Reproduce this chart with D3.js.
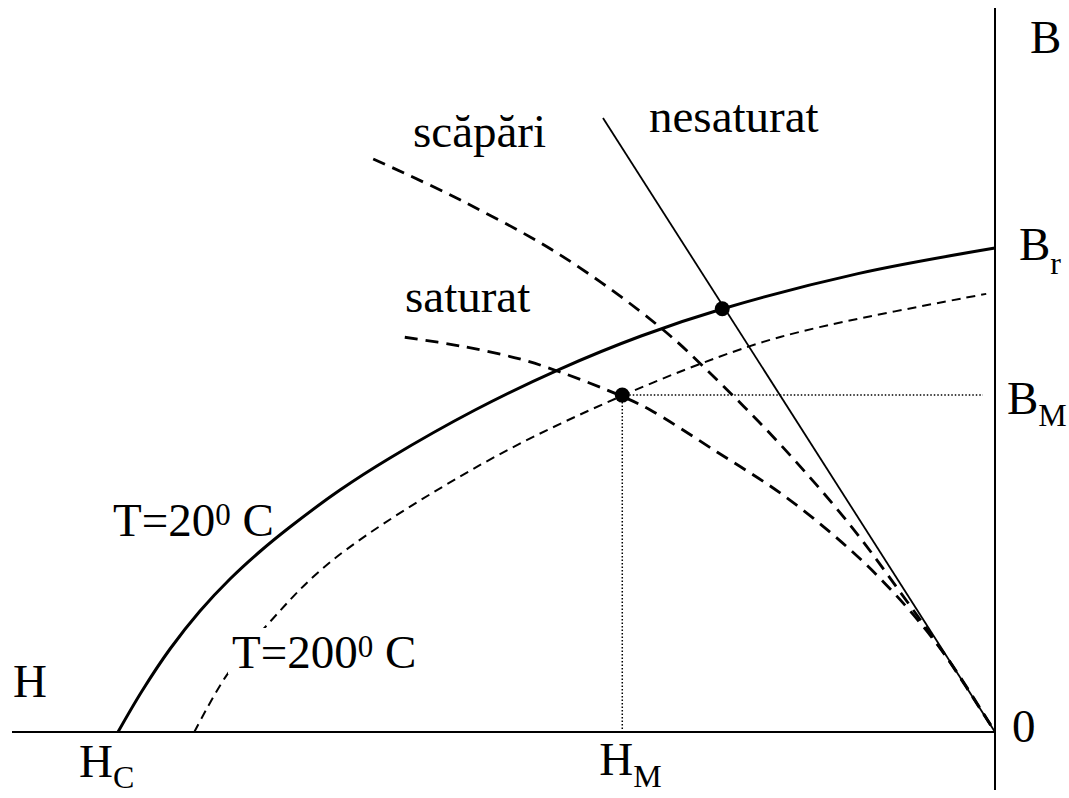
<!DOCTYPE html>
<html>
<head>
<meta charset="utf-8">
<script src="https://cdn.jsdelivr.net/npm/d3@7"></script>
<style>
  html, body { margin: 0; padding: 0; background: #fff; }
  svg { display: block; }
  text { font-family: "Liberation Serif", "Times New Roman", serif; fill: #000; }
</style>
</head>
<body>
<div id="chart"></div>
<script>
(function () {
    'use strict';

    // demagnetization curve at T=20 C (H relative to Hc = -100, B relative to Br = 100)
    var curve20H = [-100, -97.26, -94.07, -90.65, -87.23, -83.81, -80.39, -74.69, -68.99, -59.29, -49.6, -40.36, -31.13, -15.62, 0];
    var curve20B = [0, 8.51, 17.22, 25.1, 31.74, 37.45, 42.53, 50.2, 56.85, 66.8, 75.3, 82.16, 87.76, 95.1, 100.4];

    // curve at T=200 C
    var curve200H = [-91.3, -87.6, -82.4, -75.5, -58.7, -42.6, -28.2, -20.0, -1.0];
    var curve200B = [0, 11.8, 23.4, 35.7, 55.4, 69.7, 79.9, 84.0, 90.9];

    // load line with leakage ("scapari")
    var scapariH = [-70.9, -61.0, -49.6, -38.2, -31.0, -24.2, -16.5, -10.8, -5.7, 0];
    var scapariB = [118.9, 110.4, 99.0, 84.0, 71.8, 59.1, 42.9, 29.0, 16.0, 0];

    // saturated load line
    var saturatH = [-67.3, -61.0, -54.2, -49.6, -42.6, -39.3, -31.7, -24.2, -16.5, -10.8, -5.7, 0];
    var saturatB = [81.9, 80.1, 77.4, 74.7, 69.7, 66.8, 58.1, 49.2, 37.8, 27.4, 16.0, 0];

    // unsaturated (straight) load line
    var nesaturatH = [-44.7, 0];
    var nesaturatB = [127.4, 0];

    // marked points: operating point on T=20 curve, and M on T=200 curve
    var pointH = [-31.1, -42.5];
    var pointB = [87.8, 69.9];

    var hC = -100, hM = -42.5, bR = 100, bM = 69.9;

    var w = 1069, h = 798;
    var svg = d3.select("#chart").append("svg")
                .attr("width", w)
                .attr("height", h);

    var x = d3.scaleLinear().domain([-100, 0]).range([118, 995]);
    var y = d3.scaleLinear().domain([0, 100]).range([732, 250]);

    function zip(hs, bs) {
        return hs.map(function (d, i) { return [d, bs[i]]; });
    }

    var line = d3.line()
                 .x(function (d) { return x(d[0]); })
                 .y(function (d) { return y(d[1]); })
                 .curve(d3.curveCatmullRom.alpha(0.5));

    // axes
    svg.append("line")
       .attr("x1", 12).attr("x2", x(0))
       .attr("y1", y(0)).attr("y2", y(0))
       .attr("stroke", "#000").attr("stroke-width", 2);
    svg.append("line")
       .attr("x1", x(0)).attr("x2", x(0))
       .attr("y1", 8).attr("y2", 790)
       .attr("stroke", "#000").attr("stroke-width", 2);

    // dotted guides to M
    svg.append("line")
       .attr("x1", x(hM)).attr("x2", 983)
       .attr("y1", y(bM)).attr("y2", y(bM))
       .attr("stroke", "#000").attr("stroke-width", 1.5)
       .attr("stroke-dasharray", "1.5,2");
    svg.append("line")
       .attr("x1", x(hM)).attr("x2", x(hM))
       .attr("y1", y(bM)).attr("y2", y(0))
       .attr("stroke", "#000").attr("stroke-width", 1.5)
       .attr("stroke-dasharray", "1.5,2");

    svg.append("path")
       .attr("d", line(zip(curve200H, curve200B)))
       .attr("fill", "none").attr("stroke", "#000")
       .attr("stroke-width", 2).attr("stroke-dasharray", "9,6");

    svg.append("path")
       .attr("d", line(zip(scapariH, scapariB)))
       .attr("fill", "none").attr("stroke", "#000")
       .attr("stroke-width", 2.8).attr("stroke-dasharray", "13,8");

    svg.append("path")
       .attr("d", line(zip(saturatH, saturatB)))
       .attr("fill", "none").attr("stroke", "#000")
       .attr("stroke-width", 2.8).attr("stroke-dasharray", "13,8");

    svg.append("path")
       .attr("d", line(zip(nesaturatH, nesaturatB)))
       .attr("fill", "none").attr("stroke", "#000")
       .attr("stroke-width", 1.8);

    svg.append("path")
       .attr("d", line(zip(curve20H, curve20B)))
       .attr("fill", "none").attr("stroke", "#000")
       .attr("stroke-width", 3);

    svg.selectAll("circle.pt")
       .data(zip(pointH, pointB))
       .enter()
       .append("circle")
       .attr("class", "pt")
       .attr("cx", function (d) { return x(d[0]); })
       .attr("cy", function (d) { return y(d[1]); })
       .attr("r", 7.5)
       .attr("fill", "#000");

    // labels
    var fs = 47, subFs = 32, supFs = 31;

    function label(px, py, main, sub, subDy) {
        var t = svg.append("text")
                   .attr("x", px).attr("y", py)
                   .attr("font-size", fs)
                   .text(main);
        if (sub) {
            t.append("tspan")
             .attr("font-size", subFs)
             .attr("dy", subDy)
             .text(sub);
        }
        return t;
    }

    function tempLabel(px, py, num) {
        var t = svg.append("text")
                   .attr("x", px).attr("y", py)
                   .attr("font-size", fs);
        t.append("tspan").text("T=" + num);
        t.append("tspan").attr("font-size", supFs).attr("dy", -11).text("0");
        t.append("tspan").attr("dy", 11).text(" C");
        return t;
    }

    label(1030, 53, "B");
    label(1019, y(bR) + 10, "B", "r", 14);
    label(1007, y(bM) + 19, "B", "M", 12);
    label(1012, y(0) + 10, "0");
    label(13, 697, "H");
    label(x(hC) - 39, 777, "H", "C", 11);
    label(x(hM) - 23, 775, "H", "M", 12);

    label(413, 147, "scăpări");
    label(649, 132, "nesaturat");
    label(405, 312, "saturat");

    tempLabel(113, 536, "20");

    var t200 = tempLabel(232, 668, "200");
    var bb = t200.node().getBBox();
    svg.insert("rect", "text")
       .attr("x", bb.x - 4).attr("y", bb.y + 2)
       .attr("width", bb.width + 6).attr("height", bb.height - 6)
       .attr("fill", "#fff");
})();
</script>
</body>
</html>
